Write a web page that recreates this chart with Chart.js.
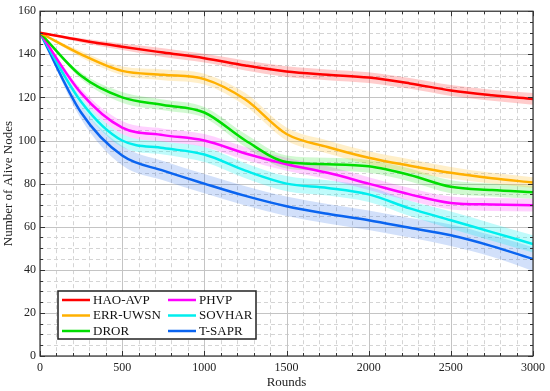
<!DOCTYPE html>
<html>
<head>
<meta charset="utf-8">
<script src="https://cdn.jsdelivr.net/npm/chart.js@4"></script>
<style>
  html, body { margin: 0; padding: 0; background: #fff; }
  #wrap { width: 550px; height: 391px; }
</style>
</head>
<body>
<div id="wrap"><canvas id="chart"></canvas></div>
<script>
// rounds on the x axis
const rounds = [0, 250, 500, 750, 1000, 1250, 1500, 1750, 2000, 2250, 2500, 2750, 3000];

// number of alive nodes
const haoAvp  = [150, 146.5, 143.5, 140.8, 138.2, 134.8, 132, 130.5, 129.2, 126.5, 123.2, 121, 119.3];
const errUwsn = [150, 140, 132.3, 130.5, 128.5, 119, 103, 97, 92, 88.3, 85, 82.5, 80.5];
const dror    = [150, 130, 120, 116.5, 113, 100, 90, 89, 88, 84, 78.5, 77, 76];
const phvp    = [150, 122, 106, 102.5, 100, 94, 89, 85, 80, 75, 71, 70.3, 70];
const sovhar  = [150, 118, 100, 96.5, 93.5, 86, 80, 78, 75, 68.5, 63, 57.5, 52];
const tSapr   = [150, 113, 93, 86, 80, 74.3, 69.5, 66, 63, 59.5, 56, 51, 45];

// half width of the shaded band round each line
const haoAvpBand  = [0, 1, 1.5, 2, 2, 2.3, 2.5, 2.5, 2.5, 2.5, 2.5, 2.5, 2.7];
const errUwsnBand = [0, 1.5, 2, 2.5, 2.5, 3, 3, 3, 3, 3, 2.7, 2.5, 2.5];
const drorBand    = [0, 1.5, 2.5, 2.5, 2.5, 3, 3, 3, 3, 3, 3, 3, 3];
const phvpBand    = [0, 2, 3, 3, 3, 3, 3, 3, 3, 3, 3, 3, 3];
const sovharBand  = [0, 2, 3, 3, 3.5, 3.5, 3.5, 3.5, 3.5, 3.5, 4, 4, 4];
const tSaprBand   = [0, 3, 4.5, 4.5, 4.5, 4.5, 4.5, 4.5, 4.5, 4.5, 5, 5, 5.5];

const xTicks = [0, 500, 1000, 1500, 2000, 2500, 3000];
const yTicks = [0, 20, 40, 60, 80, 100, 120, 140, 160];

const series = [
    { label: 'HAO-AVP',  data: haoAvp,  band: haoAvpBand,  color: '#ff0000', fill: 'rgba(255, 0, 0, 0.2)' },
    { label: 'ERR-UWSN', data: errUwsn, band: errUwsnBand, color: '#ffb000', fill: 'rgba(255, 190, 40, 0.25)' },
    { label: 'DROR',     data: dror,    band: drorBand,    color: '#00dd00', fill: 'rgba(0, 220, 0, 0.18)' },
    { label: 'PHVP',     data: phvp,    band: phvpBand,    color: '#ff00ff', fill: 'rgba(255, 0, 255, 0.18)' },
    { label: 'SOVHAR',   data: sovhar,  band: sovharBand,  color: '#00eeee', fill: 'rgba(0, 240, 240, 0.25)' },
    { label: 'T-SAPR',   data: tSapr,   band: tSaprBand,   color: '#0a64f0', fill: 'rgba(30, 100, 230, 0.2)' }
];

const pts = arr => rounds.map((r, i) => ({ x: r, y: arr[i] }));

const datasets = [];
series.forEach(s => {
    datasets.push({
        data: pts(s.data.map((v, i) => v + s.band[i])),
        borderWidth: 0, pointRadius: 0, backgroundColor: s.fill,
        fill: '+1', order: 10, cubicInterpolationMode: 'monotone'
    });
    datasets.push({
        data: pts(s.data.map((v, i) => v - s.band[i])),
        borderWidth: 0, pointRadius: 0, fill: false,
        order: 10, cubicInterpolationMode: 'monotone'
    });
});
series.forEach(s => {
    datasets.push({
        label: s.label, data: pts(s.data), borderColor: s.color,
        borderWidth: 2.5, pointRadius: 0, fill: false, order: 1,
        cubicInterpolationMode: 'monotone'
    });
});

const serif = '"Liberation Serif", "Times New Roman", serif';

// grid, frame, inward ticks and the legend box
const framePlugin = {
    id: 'frame',
    beforeDatasetsDraw(chart) {
        const { ctx, chartArea: a, scales: { x, y } } = chart;
        ctx.save();
        ctx.lineWidth = 1;
        ctx.strokeStyle = '#d4d4d4';
        ctx.setLineDash([4, 3]);
        for (let v = 100; v < 3000; v += 100) {
            if (v % 500 === 0) continue;
            const px = Math.round(x.getPixelForValue(v)) + 0.5;
            ctx.beginPath(); ctx.moveTo(px, a.top); ctx.lineTo(px, a.bottom); ctx.stroke();
        }
        for (let v = 5; v < 160; v += 5) {
            if (v % 20 === 0) continue;
            const py = Math.round(y.getPixelForValue(v)) + 0.5;
            ctx.beginPath(); ctx.moveTo(a.left, py); ctx.lineTo(a.right, py); ctx.stroke();
        }
        ctx.setLineDash([]);
        ctx.strokeStyle = '#c4c4c4';
        xTicks.forEach(v => {
            const px = Math.round(x.getPixelForValue(v)) + 0.5;
            ctx.beginPath(); ctx.moveTo(px, a.top); ctx.lineTo(px, a.bottom); ctx.stroke();
        });
        yTicks.forEach(v => {
            const py = Math.round(y.getPixelForValue(v)) + 0.5;
            ctx.beginPath(); ctx.moveTo(a.left, py); ctx.lineTo(a.right, py); ctx.stroke();
        });
        ctx.restore();
    },
    afterDraw(chart) {
        const { ctx, chartArea: a, scales: { x, y } } = chart;
        ctx.save();
        ctx.strokeStyle = '#333';
        ctx.lineWidth = 1;
        for (let v = 0; v <= 3000; v += 100) {
            const px = Math.round(x.getPixelForValue(v)) + 0.5;
            const len = v % 500 === 0 ? 5 : 3;
            ctx.beginPath();
            ctx.moveTo(px, a.bottom); ctx.lineTo(px, a.bottom - len);
            ctx.moveTo(px, a.top); ctx.lineTo(px, a.top + len);
            ctx.stroke();
        }
        for (let v = 0; v <= 160; v += 5) {
            const py = Math.round(y.getPixelForValue(v)) + 0.5;
            const len = v % 20 === 0 ? 5 : 3;
            ctx.beginPath();
            ctx.moveTo(a.left, py); ctx.lineTo(a.left + len, py);
            ctx.moveTo(a.right, py); ctx.lineTo(a.right - len, py);
            ctx.stroke();
        }
        ctx.lineWidth = 1.2;
        ctx.strokeRect(a.left, a.top, a.right - a.left, a.bottom - a.top);

        // legend
        const bx = 58, by = 291, bw = 198, bh = 48;
        ctx.fillStyle = '#fff';
        ctx.fillRect(bx, by, bw, bh);
        ctx.strokeStyle = '#222';
        ctx.lineWidth = 1.5;
        ctx.strokeRect(bx, by, bw, bh);
        ctx.font = '13px ' + serif;
        ctx.textBaseline = 'middle';
        series.forEach((s, i) => {
            const col = Math.floor(i / 3), row = i % 3;
            const lx = bx + 4 + col * 106;
            const ly = by + 9 + row * 15.5;
            ctx.strokeStyle = s.color;
            ctx.lineWidth = 2.5;
            ctx.beginPath(); ctx.moveTo(lx, ly); ctx.lineTo(lx + 28, ly); ctx.stroke();
            ctx.fillStyle = '#111';
            ctx.fillText(s.label, lx + 31, ly + 0.5);
        });
        ctx.restore();
    }
};

new Chart(document.getElementById('chart'), {
    type: 'line',
    data: { datasets: datasets },
    options: {
        responsive: true,
        maintainAspectRatio: false,
        animation: false,
        layout: { padding: { top: 9, right: 13, left: 0, bottom: 0 } },
        plugins: { legend: { display: false }, tooltip: { enabled: false } },
        scales: {
            x: {
                type: 'linear', min: 0, max: 3000,
                afterBuildTicks: s => { s.ticks = xTicks.map(v => ({ value: v })); },
                afterFit: s => { s.height = 35; },
                grid: { display: false, drawTicks: false, tickLength: 0 },
                border: { display: false },
                ticks: { color: '#222', padding: 5, maxRotation: 0, font: { family: serif, size: 12 },
                         callback: v => String(v) },
                title: { display: true, text: 'Rounds', color: '#222', padding: { top: 0, bottom: 1 }, font: { family: serif, size: 13 } }
            },
            y: {
                min: 0, max: 160,
                afterBuildTicks: s => { s.ticks = yTicks.map(v => ({ value: v })); },
                afterFit: s => { s.width = 40; },
                grid: { display: false, drawTicks: false, tickLength: 0 },
                border: { display: false },
                ticks: { color: '#222', padding: 4, font: { family: serif, size: 12 },
                         callback: v => String(v) },
                title: { display: true, text: 'Number of Alive Nodes', color: '#222', padding: { top: 1, bottom: 0 }, font: { family: serif, size: 13 } }
            }
        }
    },
    plugins: [framePlugin]
});
</script>
</body>
</html>
